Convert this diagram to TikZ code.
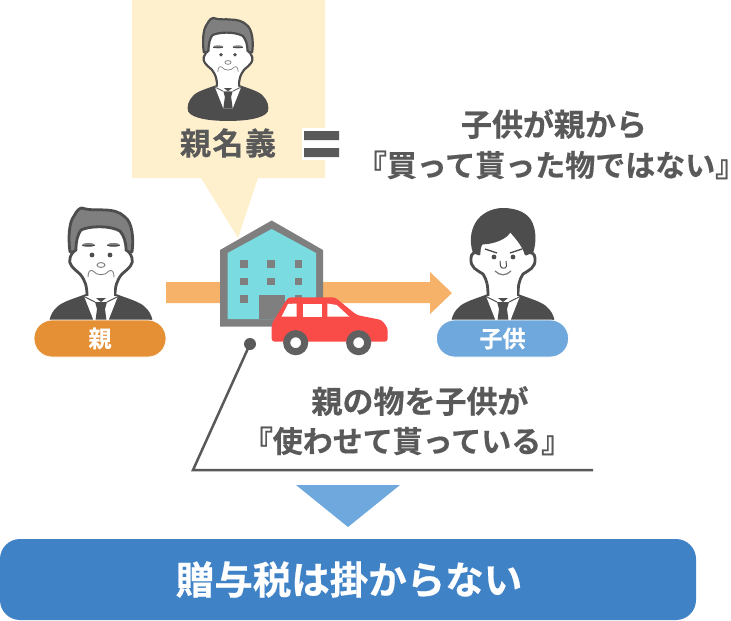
\documentclass[tikz,border=0pt]{standalone}
\usepackage{fontspec}
\newfontfamily\cjk{Noto Sans CJK JP}[BoldFont={Noto Sans CJK JP Bold},BoldFeatures={FakeBold=0.5}]
\newfontfamily\cjkp{Noto Sans CJK JP Bold}[Script=CJK,RawFeature={+halt},FakeBold=0.5]
\definecolor{ink}{HTML}{595959}
\definecolor{suit}{HTML}{4D4D4D}
\definecolor{hairgray}{HTML}{7F7F7F}
\definecolor{cream}{HTML}{FEF0CD}
\definecolor{arroworange}{HTML}{F7B26A}
\definecolor{pillorange}{HTML}{E59035}
\definecolor{lightblue}{HTML}{6FA8DC}
\definecolor{deepblue}{HTML}{3F83C6}
\definecolor{teal}{HTML}{7ADCE0}
\definecolor{carred}{HTML}{F94C48}
\definecolor{wheel}{HTML}{606060}
\newcommand{\lbr}{{\cjkp 『}}
\newcommand{\rbr}{{\cjkp 』}}
\tikzset{
  jptext/.style={font=\cjk\bfseries\fontsize{31}{36}\selectfont,text=ink,inner sep=0pt,align=center},
  jpbracket/.style={font=\cjk\bfseries\fontsize{30}{36}\selectfont,text=ink,inner sep=0pt,align=center},
  pilllabel/.style={font=\cjk\bfseries\fontsize{23}{26}\selectfont,text=white,rounded corners=18pt,draw=white,line width=0.8pt,minimum height=37pt,inner sep=0pt},
}
\newcommand{\manbody}[3]{%
  \begin{scope}[shift={(#1,#2)},scale=#3]
    \fill[suit] (-15,86) -- (15,86) .. controls (28,91) and (40,94) .. (45,100)
      .. controls (51,106) and (53,114) .. (51,120)
      .. controls (46,129) and (22,132) .. (0,132)
      .. controls (-22,132) and (-46,129) .. (-51,120)
      .. controls (-53,114) and (-51,106) .. (-45,100)
      .. controls (-40,94) and (-28,91) .. (-15,86) -- cycle;
    \fill[white] (-17,88) -- (17,88) -- (6,116) -- (-6,116) -- cycle;
    \fill[suit] (-6,94) -- (6,94) -- (4,101) -- (6,116) -- (-6,116) -- (-4,101) -- cycle;
    \fill[suit] (-10,86) -- (10,86) -- (0,94) -- cycle;
    \draw[suit,line width=#3*1pt] (-18,88) -- (-6,94) (18,88) -- (6,94);
  \end{scope}}
\newcommand{\oldman}[3]{%
  \manbody{#1}{#2}{#3}
  \begin{scope}[shift={(#1,#2)},scale=#3,line width=#3*2.8pt,draw=suit,line join=round]
    \filldraw[fill=hairgray] (-31,44) .. controls (-33,30) and (-32,14) .. (-27,8)
      .. controls (-24,2) and (-21,0) .. (-19,0) .. controls (-10,3) and (-2,1) .. (3,2)
      .. controls (12,2) and (19,4) .. (24,9) .. controls (31,14) and (33,30) .. (31,44) -- cycle;
    \filldraw[fill=white] (-14,88) .. controls (-14,78) and (-16,72) .. (-21,66)
      .. controls (-28,60) and (-33,56) .. (-31,50) .. controls (-30,46) and (-27,43) .. (-25,42)
      .. controls (-25,32) and (-23,26) .. (-20,22) .. controls (-12,18) and (8,17) .. (19,23)
      .. controls (23,28) and (25,34) .. (25,42) .. controls (27,43) and (30,46) .. (31,50)
      .. controls (33,56) and (28,60) .. (21,66) .. controls (16,72) and (14,78) .. (14,88);
    \fill[white] (-12.5,80) rectangle (12.5,90);
    \fill[hairgray,draw=none] (-12.5,37) ellipse (6.5 and 2);
    \fill[hairgray,draw=none] (12.5,37) ellipse (6.5 and 2);
    \draw[line width=#3*.7pt] (-19,37) -- (-6,37) (6,37) -- (19,37);
    \fill[suit,draw=none] (-9,47) circle (2.4) (9,47) circle (2.4);
    \filldraw[fill=white,draw=hairgray,line width=#3*1pt] (0,57) ellipse (4 and 2.4);
    \draw[hairgray,line width=#3*.9pt] (-8,63) .. controls (-4,68) and (4,68) .. (8,63);
    \draw[hairgray,line width=#3*.9pt] (-8,63) .. controls (-11,61) and (-13,64) .. (-13,69)
      (8,63) .. controls (11,61) and (13,64) .. (13,69);
  \end{scope}}
\newcommand{\youngman}[3]{%
  \manbody{#1}{#2}{#3}
  \begin{scope}[shift={(#1,#2)},scale=#3,line width=#3*2.8pt,draw=suit,line join=round]
    \fill[suit] (-28,50) .. controls (-34,38) and (-34,22) .. (-25,11)
      .. controls (-18,3) and (-8,0) .. (0,0) .. controls (14,0) and (26,5) .. (30,16)
      .. controls (34,26) and (33,40) .. (28,50) -- cycle;
    \filldraw[fill=white] (-15,88) .. controls (-15,78) and (-16,72) .. (-20,66)
      .. controls (-26,62) and (-33,60) .. (-32,50) .. controls (-32,45) and (-28,43) .. (-24,46)
      .. controls (-24,40) and (-23,37) .. (-21,35) .. controls (-10,35) and (4,30) .. (7,22)
      .. controls (12,28) and (20,36) .. (23,46) .. controls (27,43) and (32,45) .. (32,50)
      .. controls (33,60) and (26,62) .. (20,66) .. controls (16,72) and (15,78) .. (15,88);
    \fill[white] (-13.5,80) rectangle (13.5,90);
    \draw[suit,line width=1.4pt] (-18,41) -- (-6,45) (7,45) -- (19,41);
    \fill[suit] (-9,49) circle (2.4) (10,49) circle (2.4);
    \draw[suit,line width=1pt] (-3,53) -- (-2.5,58) .. controls (-2,61) and (3,61) .. (3.5,58) -- (3,53);
    \draw[hairgray,line width=1.3pt] (-8,63) .. controls (-3,68) and (3,68) .. (8,63);
  \end{scope}}
\begin{document}
\begin{tikzpicture}[x=1pt,y=-1pt]
\useasboundingbox (0,0) rectangle (731,621);
\fill[cream] (132,0) -- (325,0) -- (325,178) -- (258,178) -- (238,238) -- (201,178) -- (132,178) -- cycle;
\fill[arroworange] (166,282) -- (430,282) -- (430,272) -- (452,293) -- (430,314) -- (430,303) -- (166,303) -- cycle;
\oldman{228}{18}{0.78}
\oldman{101}{208}{1}
\youngman{503}{208}{1}
\node[pilllabel,fill=pillorange,minimum width=132pt] (oya) at (100,338.5) {親};
\node[pilllabel,fill=lightblue,minimum width=132pt] (kodomo) at (502.5,338.5) {子供};
\node[jptext] (meigi) at (228,143) {親\hspace{1.5pt}名\hspace{1.5pt}義};
\fill[white] (302,128) rectangle (342,160);
\fill[ink] (304,131) rectangle (339,140) (304,148) rectangle (339,157);
\node[jptext] (buy1) at (554,124) {子供が親から};
\node[jpbracket] (buy2) at (551,165) {\lbr 買って貰った物ではない\rbr};
\fill[hairgray] (220,250) -- (271.7,220.5) -- (323,250) -- (323,326.7) -- (220,326.7) -- cycle;
\fill[teal] (227.7,253) -- (271.7,229) -- (316,253) -- (316,319) -- (227.7,319) -- cycle;
\foreach \wx in {240,267.3,294.7}
  \foreach \wy in {260,277.7,295.3}
    \fill[hairgray] (\wx,\wy) rectangle +(7.7,7.7);
\fill[hairgray] (259,295) rectangle (285,319);
\fill[carred,rounded corners=3pt] (271.7,341.7) -- (271.7,324) -- (288,297.3) -- (335,297.3) -- (356.7,315) -- (381.7,320) -- (387.7,328) -- (387.7,341.7) -- cycle;
\fill[white] (281.5,316.7) -- (288,304) -- (296.7,303.5) -- (296.7,316.7) -- cycle;
\fill[white] (302.7,303.5) rectangle (322.3,316.7);
\fill[white] (327.3,303.5) -- (336.7,305) -- (349.3,316.7) -- (327.3,316.7) -- cycle;
\filldraw[fill=white,draw=wheel,line width=7pt] (295.7,342.7) circle (9);
\filldraw[fill=white,draw=wheel,line width=7pt] (358.7,342.7) circle (9);
\node[circle,fill=ink,inner sep=0pt,minimum size=12pt] (dot) at (250,344) {};
\coordinate (bend) at (193,470);
\coordinate (lineend) at (593,470);
\draw[ink,line width=2.5pt,line join=miter] (dot.center) -- (bend) -- (lineend);
\node[jptext] (use1) at (420,401) {親の物を子供が};
\node[jpbracket] (use2) at (407,441) {\lbr 使わせて貰っている\rbr};
\fill[lightblue] (296,485) -- (400,485) -- (348,527) -- cycle;
\node[fill=deepblue,rounded corners=20pt,minimum width=696pt,minimum height=81pt,inner sep=0pt,
  font=\cjk\bfseries\fontsize{38.5}{44}\selectfont,text=white] (result) at (348,579.5) {\hspace{2pt}贈与税は掛からない};
\end{tikzpicture}
\end{document}
